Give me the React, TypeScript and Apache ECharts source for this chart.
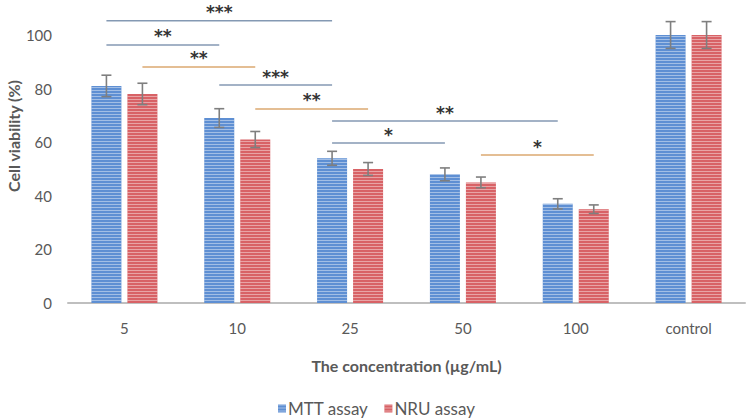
import React, { useEffect, useRef } from "react";
import * as echarts from "echarts";

const categories = ["5", "10", "25", "50", "100", "control"];
const mttValues = [81, 69, 54, 48, 37, 100];
const mttErrors = [4, 3.5, 2.6, 2.4, 1.9, 5];
const nruValues = [78, 61, 50, 45, 35, 100];
const nruErrors = [4, 3, 2.4, 2, 1.6, 5];
const yMin = 0;
const yMax = 100;
const yInterval = 20;

// significance brackets: assay, from category index, to category index, height (value units), stars
const sigAssay = ["MTT", "MTT", "NRU", "MTT", "NRU", "MTT", "MTT", "NRU"];
const sigFrom = [0, 0, 0, 1, 1, 2, 2, 3];
const sigTo = [2, 1, 1, 2, 2, 4, 3, 4];
const sigHeight = [105.3, 96.3, 88.1, 81.3, 72.4, 67.9, 59.7, 55.2];
const sigLabel = ["***", "**", "**", "***", "**", "**", "*", "*"];

const BAR_W = 30;
const BAR_GAP = 6;
const OFFSET = (BAR_W + BAR_GAP) / 2;
const FONT = "Lato, 'Open Sans', sans-serif";

export default function App() {
  const ref = useRef<HTMLDivElement>(null);
  useEffect(() => {
    document.body.style.margin = "0";
    if (!ref.current) return;
    const chart = echarts.init(ref.current, undefined, { renderer: "svg" });

    const errRender = (offset: number) => (params: any, api: any) => {
      const x = api.value(0);
      const v = api.value(1);
      const e = api.value(2);
      const top = api.coord([x, v + e]);
      const bot = api.coord([x, v - e]);
      const cx = top[0] + offset;
      const style = { stroke: "#7f7f7f", lineWidth: 1.6 };
      return {
        type: "group",
        children: [
          { type: "line", shape: { x1: cx, y1: top[1], x2: cx, y2: bot[1] }, style },
          { type: "line", shape: { x1: cx - 5, y1: top[1], x2: cx + 5, y2: top[1] }, style },
          { type: "line", shape: { x1: cx - 5, y1: bot[1], x2: cx + 5, y2: bot[1] }, style },
        ],
      };
    };

    const sigData = sigFrom.map((f, i) => [f, sigTo[i], sigHeight[i]]);
    const decal = {
      symbol: "rect",
      symbolSize: 1,
      color: "rgba(255,255,255,0.42)",
      dashArrayX: [1, 0],
      dashArrayY: [1, 2],
    };

    const option: any = {
      animation: false,
      grid: { left: 68, right: 5, top: 35, bottom: 115 },
      graphic: [
        {
          type: "text",
          x: 13,
          y: 136,
          rotation: Math.PI / 2,
          style: {
            text: "Cell viability (%)",
            align: "center",
            verticalAlign: "middle",
            font: `bold 16px ${FONT}`,
            fill: "#595959",
          },
        },
      ],
      legend: {
        data: ["MTT assay", "NRU assay"],
        left: 273,
        top: 395,
        icon: "rect",
        itemWidth: 8,
        itemHeight: 8,
        itemGap: 16,
        textStyle: { fontFamily: FONT, fontSize: 17, color: "#595959", padding: [0, 0, 0, -3] },
      },
      xAxis: {
        type: "category",
        data: categories,
        name: "The concentration (µg/mL)",
        nameLocation: "middle",
        nameGap: 54,
        nameTextStyle: { fontFamily: FONT, fontSize: 16, fontWeight: "bold", color: "#595959" },
        axisLine: { lineStyle: { color: "#bfbfbf", width: 2 } },
        axisTick: { show: false },
        axisLabel: { fontFamily: FONT, fontSize: 15, color: "#595959", margin: 17 },
      },
      yAxis: {
        type: "value",
        min: yMin,
        max: yMax,
        interval: yInterval,
        axisLine: { show: false },
        axisTick: { show: false },
        splitLine: { show: false },
        axisLabel: { fontFamily: FONT, fontSize: 15, color: "#595959", margin: 16 },
      },
      series: [
        {
          name: "MTT assay",
          type: "bar",
          data: mttValues,
          barWidth: BAR_W,
          barGap: "20%",
          itemStyle: { color: "#5e8fd3", decal },
        },
        {
          name: "NRU assay",
          type: "bar",
          data: nruValues,
          barWidth: BAR_W,
          itemStyle: { color: "#d86266", decal },
        },
        {
          type: "custom",
          name: "mttErr",
          data: mttValues.map((v, i) => [i, v, mttErrors[i]]),
          renderItem: errRender(-OFFSET),
          z: 5,
          silent: true,
        },
        {
          type: "custom",
          name: "nruErr",
          data: nruValues.map((v, i) => [i, v, nruErrors[i]]),
          renderItem: errRender(OFFSET),
          z: 5,
          silent: true,
        },
        {
          type: "custom",
          name: "sig",
          data: sigData,
          clip: false,
          z: 6,
          silent: true,
          renderItem: (params: any, api: any) => {
            const i = params.dataIndex;
            const off = sigAssay[i] === "MTT" ? -OFFSET : OFFSET;
            const a = api.coord([api.value(0), api.value(2)]);
            const b = api.coord([api.value(1), api.value(2)]);
            const x1 = a[0] + off;
            const x2 = b[0] + off;
            const y = a[1];
            const color = sigAssay[i] === "MTT" ? "#8499b3" : "#dba870";
            return {
              type: "group",
              children: [
                { type: "line", shape: { x1, y1: y, x2, y2: y }, style: { stroke: color, lineWidth: 1.5 } },
                {
                  type: "text",
                  style: {
                    text: sigLabel[i],
                    x: (x1 + x2) / 2,
                    y: y,
                    align: "center",
                    verticalAlign: "bottom",
                    font: "bold 17px 'DejaVu Sans'",
                    fill: "#333333",
                  },
                },
              ],
            };
          },
        },
      ],
    };
    chart.setOption(option);
    return () => chart.dispose();
  }, []);
  return <div ref={ref} style={{ width: 750, height: 418 }} />;
}
